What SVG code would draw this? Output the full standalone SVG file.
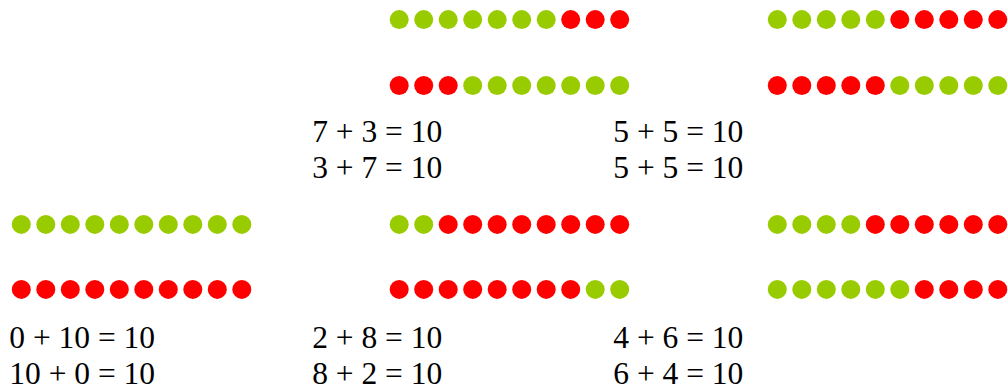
<svg xmlns="http://www.w3.org/2000/svg" width="1008" height="387" viewBox="0 0 1008 387">
<style>
.g{fill:#99CC00}.r{fill:#FF0000}
text{font-family:"Liberation Serif","Times New Roman",serif;font-size:31.5px;fill:#000}
</style>
<defs>
<circle id="d" r="9.5"/>
</defs>
<rect width="1008" height="387" fill="#fff"/>
<g id="n73" transform="translate(399.2,0)">
<g transform="translate(0,19.6)"><use href="#d" class="g" x="0"/><use href="#d" class="g" x="24.5"/><use href="#d" class="g" x="49"/><use href="#d" class="g" x="73.5"/><use href="#d" class="g" x="98"/><use href="#d" class="g" x="122.5"/><use href="#d" class="g" x="147"/><use href="#d" class="r" x="171.5"/><use href="#d" class="r" x="196"/><use href="#d" class="r" x="220.5"/></g>
<g transform="translate(0,85.5)"><use href="#d" class="r" x="0"/><use href="#d" class="r" x="24.5"/><use href="#d" class="r" x="49"/><use href="#d" class="g" x="73.5"/><use href="#d" class="g" x="98"/><use href="#d" class="g" x="122.5"/><use href="#d" class="g" x="147"/><use href="#d" class="g" x="171.5"/><use href="#d" class="g" x="196"/><use href="#d" class="g" x="220.5"/></g>
<text x="-87" y="142">7 + 3 = 10</text>
<text x="-87" y="178">3 + 7 = 10</text>
</g>
<g id="n55" transform="translate(777.3,0)">
<g transform="translate(0,19.6)"><use href="#d" class="g" x="0"/><use href="#d" class="g" x="24.5"/><use href="#d" class="g" x="49"/><use href="#d" class="g" x="73.5"/><use href="#d" class="g" x="98"/><use href="#d" class="r" x="122.5"/><use href="#d" class="r" x="147"/><use href="#d" class="r" x="171.5"/><use href="#d" class="r" x="196"/><use href="#d" class="r" x="220.5"/></g>
<g transform="translate(0,85.5)"><use href="#d" class="r" x="0"/><use href="#d" class="r" x="24.5"/><use href="#d" class="r" x="49"/><use href="#d" class="r" x="73.5"/><use href="#d" class="r" x="98"/><use href="#d" class="g" x="122.5"/><use href="#d" class="g" x="147"/><use href="#d" class="g" x="171.5"/><use href="#d" class="g" x="196"/><use href="#d" class="g" x="220.5"/></g>
<text x="-164" y="142">5 + 5 = 10</text>
<text x="-164" y="178">5 + 5 = 10</text>
</g>
<g id="n010" transform="translate(21.3,0)">
<g transform="translate(0,224.4)"><use href="#d" class="g" x="0"/><use href="#d" class="g" x="24.5"/><use href="#d" class="g" x="49"/><use href="#d" class="g" x="73.5"/><use href="#d" class="g" x="98"/><use href="#d" class="g" x="122.5"/><use href="#d" class="g" x="147"/><use href="#d" class="g" x="171.5"/><use href="#d" class="g" x="196"/><use href="#d" class="g" x="220.5"/></g>
<g transform="translate(0,289.4)"><use href="#d" class="r" x="0"/><use href="#d" class="r" x="24.5"/><use href="#d" class="r" x="49"/><use href="#d" class="r" x="73.5"/><use href="#d" class="r" x="98"/><use href="#d" class="r" x="122.5"/><use href="#d" class="r" x="147"/><use href="#d" class="r" x="171.5"/><use href="#d" class="r" x="196"/><use href="#d" class="r" x="220.5"/></g>
<text x="-12" y="348">0 + 10 = 10</text>
<text x="-12" y="384">10 + 0 = 10</text>
</g>
<g id="n28" transform="translate(399.2,0)">
<g transform="translate(0,224.4)"><use href="#d" class="g" x="0"/><use href="#d" class="g" x="24.5"/><use href="#d" class="r" x="49"/><use href="#d" class="r" x="73.5"/><use href="#d" class="r" x="98"/><use href="#d" class="r" x="122.5"/><use href="#d" class="r" x="147"/><use href="#d" class="r" x="171.5"/><use href="#d" class="r" x="196"/><use href="#d" class="r" x="220.5"/></g>
<g transform="translate(0,289.4)"><use href="#d" class="r" x="0"/><use href="#d" class="r" x="24.5"/><use href="#d" class="r" x="49"/><use href="#d" class="r" x="73.5"/><use href="#d" class="r" x="98"/><use href="#d" class="r" x="122.5"/><use href="#d" class="r" x="147"/><use href="#d" class="r" x="171.5"/><use href="#d" class="g" x="196"/><use href="#d" class="g" x="220.5"/></g>
<text x="-87" y="348">2 + 8 = 10</text>
<text x="-87" y="384">8 + 2 = 10</text>
</g>
<g id="n46" transform="translate(777.3,0)">
<g transform="translate(0,224.4)"><use href="#d" class="g" x="0"/><use href="#d" class="g" x="24.5"/><use href="#d" class="g" x="49"/><use href="#d" class="g" x="73.5"/><use href="#d" class="r" x="98"/><use href="#d" class="r" x="122.5"/><use href="#d" class="r" x="147"/><use href="#d" class="r" x="171.5"/><use href="#d" class="r" x="196"/><use href="#d" class="r" x="220.5"/></g>
<g transform="translate(0,289.4)"><use href="#d" class="g" x="0"/><use href="#d" class="g" x="24.5"/><use href="#d" class="g" x="49"/><use href="#d" class="g" x="73.5"/><use href="#d" class="g" x="98"/><use href="#d" class="g" x="122.5"/><use href="#d" class="r" x="147"/><use href="#d" class="r" x="171.5"/><use href="#d" class="r" x="196"/><use href="#d" class="r" x="220.5"/></g>
<text x="-164" y="348">4 + 6 = 10</text>
<text x="-164" y="384">6 + 4 = 10</text>
</g>
<g id="connectors"/>
</svg>
